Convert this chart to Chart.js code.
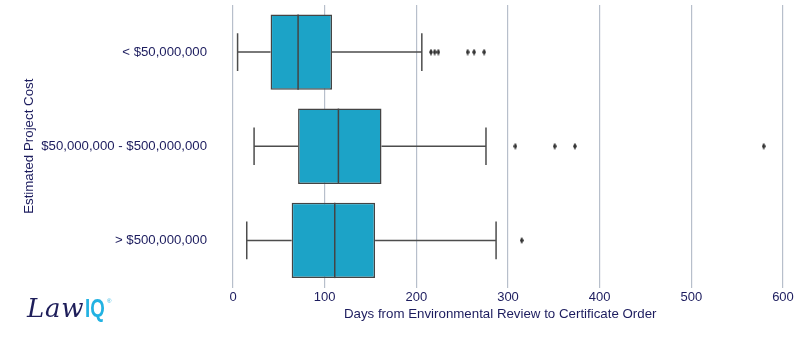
<!DOCTYPE html>
<html>
<head>
<meta charset="utf-8">
<title>Days from Environmental Review to Certificate Order</title>
<script src="https://cdn.jsdelivr.net/npm/chart.js@4/dist/chart.umd.min.js"></script>
<style>
  html, body { margin: 0; padding: 0; background: #ffffff; }
  #wrap { position: relative; width: 800px; height: 344px; }
  #logo { position: absolute; left: 27px; top: 293px; font-size: 26px; line-height: 30px; white-space: nowrap; }
  #logo .law { font-family: 'DejaVu Serif', serif; font-style: italic; color: #1e1e5a; letter-spacing: 0.8px; }
  #logo .iq { font-family: 'Liberation Sans', Arial, sans-serif; font-weight: bold; color: #22b2e2; display: inline-block; transform: scaleX(0.72); transform-origin: left center; margin-left: 1px; }
  #logo .reg { position: absolute; left: 80px; top: 5px; font-family: 'Liberation Sans', Arial, sans-serif; font-size: 6px; line-height: 6px; color: #22b2e2; }
</style>
</head>
<body>
<div id="wrap">
  <canvas id="chart" width="800" height="344"></canvas>
  <div id="logo"><span class="law">Law</span><span class="iq">IQ</span><span class="reg">®</span></div>
</div>
<script>
// Estimated project cost groups
const categories = ['< $50,000,000', '$50,000,000 - $500,000,000', '> $500,000,000'];

// Five-number summaries (days)
const whiskerLow  = [5, 23, 15];
const q1          = [41, 71, 64];
const median      = [71, 115, 111];
const q3          = [108, 162, 155];
const whiskerHigh = [206, 276, 287];

// Outlying projects per group (days)
const outliersSmall  = [216, 220, 224, 256, 263, 274];
const outliersMedium = [308, 351, 373, 579];
const outliersLarge  = [315];

const xTicks = [0, 100, 200, 300, 400, 500, 600];

const NAVY = '#1c1c5e';
const BOX_FILL = '#1ca3c7';
const EDGE = '#444444';
const WHISKER = '#4d4d4d';
const GRID = '#b7bfcb';
const FONT = '"Liberation Sans", Arial, sans-serif';

// Thin diamond marker for fliers
const flierMarker = document.createElement('canvas');
flierMarker.width = 4;
flierMarker.height = 7;
(function () {
  const c = flierMarker.getContext('2d');
  c.fillStyle = '#333333';
  c.beginPath();
  c.moveTo(2, 0);
  c.lineTo(4, 3.5);
  c.lineTo(2, 7);
  c.lineTo(0, 3.5);
  c.closePath();
  c.fill();
})();

const flierPoints = [];
[outliersSmall, outliersMedium, outliersLarge].forEach((list, i) => {
  list.forEach(v => flierPoints.push({ x: v, y: categories[i] }));
});

// Whiskers (behind the boxes) and median lines (on top of the boxes)
const boxParts = {
  id: 'boxParts',
  beforeDatasetsDraw(chart) {
    const { ctx } = chart;
    const xs = chart.scales.x;
    const bars = chart.getDatasetMeta(0).data;
    ctx.save();
    ctx.strokeStyle = WHISKER;
    ctx.lineWidth = 1.5;
    bars.forEach((bar, i) => {
      const { y, height } = bar.getProps(['y', 'height'], true);
      const cap = height / 4;
      const lo = xs.getPixelForValue(whiskerLow[i]);
      const a = xs.getPixelForValue(q1[i]);
      const b = xs.getPixelForValue(q3[i]);
      const hi = xs.getPixelForValue(whiskerHigh[i]);
      ctx.beginPath();
      ctx.moveTo(lo, y); ctx.lineTo(a, y);
      ctx.moveTo(b, y); ctx.lineTo(hi, y);
      ctx.moveTo(lo, y - cap); ctx.lineTo(lo, y + cap);
      ctx.moveTo(hi, y - cap); ctx.lineTo(hi, y + cap);
      ctx.stroke();
    });
    ctx.restore();
  },
  afterDatasetDraw(chart, args) {
    if (args.index !== 0) return;
    const { ctx } = chart;
    const xs = chart.scales.x;
    const bars = chart.getDatasetMeta(0).data;
    ctx.save();
    ctx.strokeStyle = EDGE;
    ctx.lineWidth = 1.5;
    bars.forEach((bar, i) => {
      const { y, height } = bar.getProps(['y', 'height'], true);
      const m = xs.getPixelForValue(median[i]);
      ctx.beginPath();
      ctx.moveTo(m, y - height / 2);
      ctx.lineTo(m, y + height / 2);
      ctx.stroke();
    });
    ctx.restore();
  }
};

// Axis caption, centred under the plot area
const xCaption = {
  id: 'xCaption',
  afterDraw(chart) {
    const { ctx, chartArea } = chart;
    ctx.save();
    ctx.fillStyle = NAVY;
    ctx.font = '13.3px ' + FONT;
    ctx.textAlign = 'center';
    ctx.textBaseline = 'middle';
    ctx.fillText('Days from Environmental Review to Certificate Order', (chartArea.left + chartArea.right) / 2, 314);
    ctx.restore();
  }
};

new Chart(document.getElementById('chart'), {
  type: 'bar',
  data: {
    labels: categories,
    datasets: [
      {
        type: 'bar',
        data: categories.map((_, i) => [q1[i], q3[i]]),
        backgroundColor: BOX_FILL,
        borderColor: EDGE,
        borderWidth: 1.5,
        borderSkipped: false,
        categoryPercentage: 0.8,
        barPercentage: 1.0
      },
      {
        type: 'scatter',
        data: flierPoints,
        pointStyle: flierMarker,
        pointRadius: 3,
        backgroundColor: '#333333',
        borderWidth: 0
      }
    ]
  },
  options: {
    indexAxis: 'y',
    responsive: false,
    animation: false,
    events: [],
    layout: { padding: { left: 17, top: 5, right: 10.6, bottom: 0 } },
    plugins: {
      legend: { display: false },
      tooltip: { enabled: false }
    },
    scales: {
      x: {
        type: 'linear',
        position: 'bottom',
        min: -24,
        max: 607,
        afterBuildTicks(scale) {
          scale.ticks = xTicks.map(v => ({ value: v }));
        },
        ticks: {
          color: NAVY,
          padding: 2,
          font: { family: FONT, size: 13 }
        },
        grid: { color: GRID, lineWidth: 1.2, drawTicks: false },
        border: { display: false },
        afterFit(scale) {
          scale.height = 56.5;
          scale.paddingLeft = 0;
          scale.paddingRight = 0;
        }
      },
      y: {
        type: 'category',
        grid: { display: false, drawTicks: false },
        border: { display: false },
        ticks: {
          color: NAVY,
          padding: 4,
          font: { family: FONT, size: 13.2 }
        },
        title: {
          display: true,
          text: 'Estimated Project Cost',
          color: NAVY,
          padding: { top: 4, bottom: 0 },
          font: { family: FONT, size: 13.3 }
        },
        afterFit(scale) {
          scale.width = 194;
          scale.paddingTop = 0;
          scale.paddingBottom = 0;
        }
      }
    }
  },
  plugins: [boxParts, xCaption]
});
</script>
</body>
</html>
